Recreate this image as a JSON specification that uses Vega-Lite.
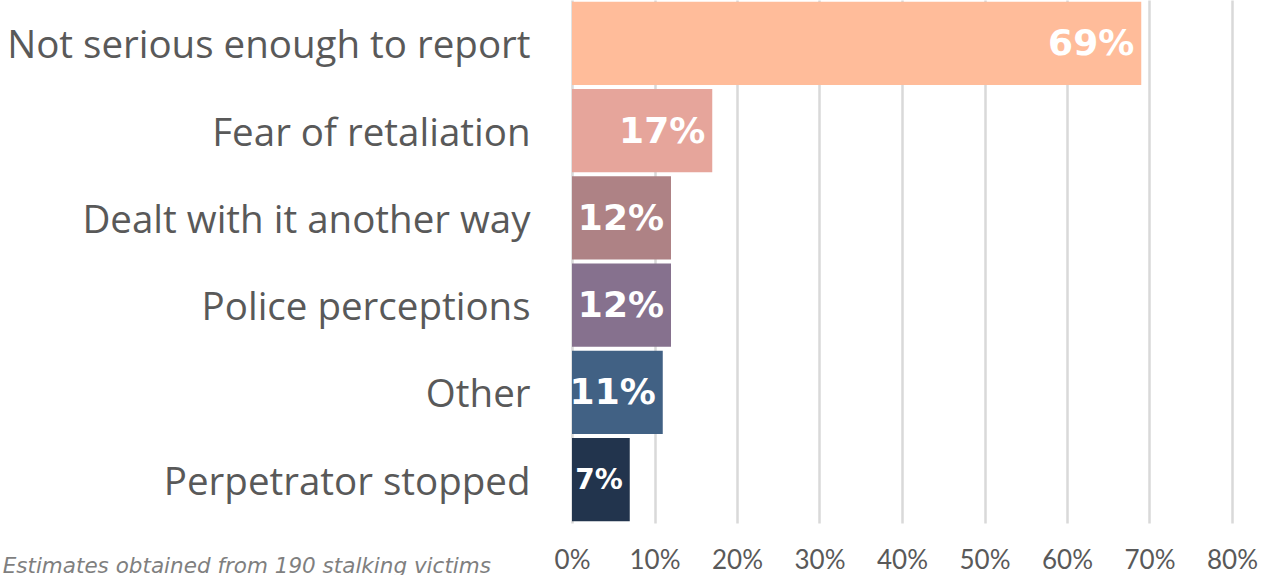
{
  "$schema": "https://vega.github.io/schema/vega-lite/v6.json",
  "autosize": "none",
  "width": 660,
  "height": 523,
  "padding": {"left": 572, "top": 0, "right": 33, "bottom": 52},
  "background": "white",
  "config": {"view": {"stroke": null}},
  "title": {
    "text": "Estimates obtained from 190 stalking victims",
    "orient": "bottom",
    "anchor": "start",
    "frame": "bounds",
    "font": "DejaVu Sans",
    "fontStyle": "italic",
    "fontWeight": "normal",
    "fontSize": 21.5,
    "color": "#7f7f7f",
    "offset": -17,
    "dx": -4
  },
  "data": {
    "values": [
      {"reason": "Not serious enough to report", "value": 0.69, "label": "69%"},
      {"reason": "Fear of retaliation", "value": 0.17, "label": "17%"},
      {"reason": "Dealt with it another way", "value": 0.12, "label": "12%"},
      {"reason": "Police perceptions", "value": 0.12, "label": "12%"},
      {"reason": "Other", "value": 0.11, "label": "11%"},
      {"reason": "Perpetrator stopped", "value": 0.07, "label": "7%"}
    ]
  },
  "encoding": {
    "y": {
      "field": "reason",
      "type": "nominal",
      "sort": null,
      "scale": {"paddingInner": 0.045, "paddingOuter": 0.02},
      "axis": {
        "title": null,
        "ticks": false,
        "domain": false,
        "labelFont": "Open Sans",
        "labelFontWeight": 400,
        "labelFontSize": 38.5,
        "labelColor": "#595959",
        "labelPadding": 42,
        "labelOffset": 3,
        "labelLimit": 600,
        "encode": {
          "labels": {
            "update": {
              "x": [
                {"test": "datum.value === 'Perpetrator stopped'", "value": -52},
                {"value": -42}
              ]
            }
          }
        }
      }
    },
    "x": {
      "field": "value",
      "type": "quantitative",
      "scale": {"domain": [0, 0.8]},
      "axis": {
        "title": null,
        "format": ".0%",
        "values": [0, 0.1, 0.2, 0.3, 0.4, 0.5, 0.6, 0.7, 0.8],
        "labelOverlap": false,
        "labelFlush": false,
        "grid": true,
        "gridColor": "#d9d9d9",
        "gridWidth": 2.5,
        "domain": false,
        "ticks": false,
        "labelFont": "Lato",
        "labelFontSize": 26,
        "labelColor": "#595959",
        "labelPadding": 24
      }
    }
  },
  "layer": [
    {
      "mark": {"type": "bar"},
      "encoding": {
        "color": {
          "field": "reason",
          "type": "nominal",
          "sort": null,
          "legend": null,
          "scale": {
            "range": ["#ffbc9a", "#e6a59b", "#ae8285", "#86718e", "#416184", "#22344d"]
          }
        }
      }
    },
    {
      "mark": {
        "type": "text",
        "align": "right",
        "baseline": "middle",
        "dx": -7,
        "dy": 1,
        "font": "DejaVu Sans",
        "fontWeight": "bold",
        "color": "white"
      },
      "encoding": {
        "text": {"field": "label"},
        "size": {
          "condition": {"test": "datum.value < 0.1", "value": 28},
          "value": 36
        }
      }
    }
  ]
}
